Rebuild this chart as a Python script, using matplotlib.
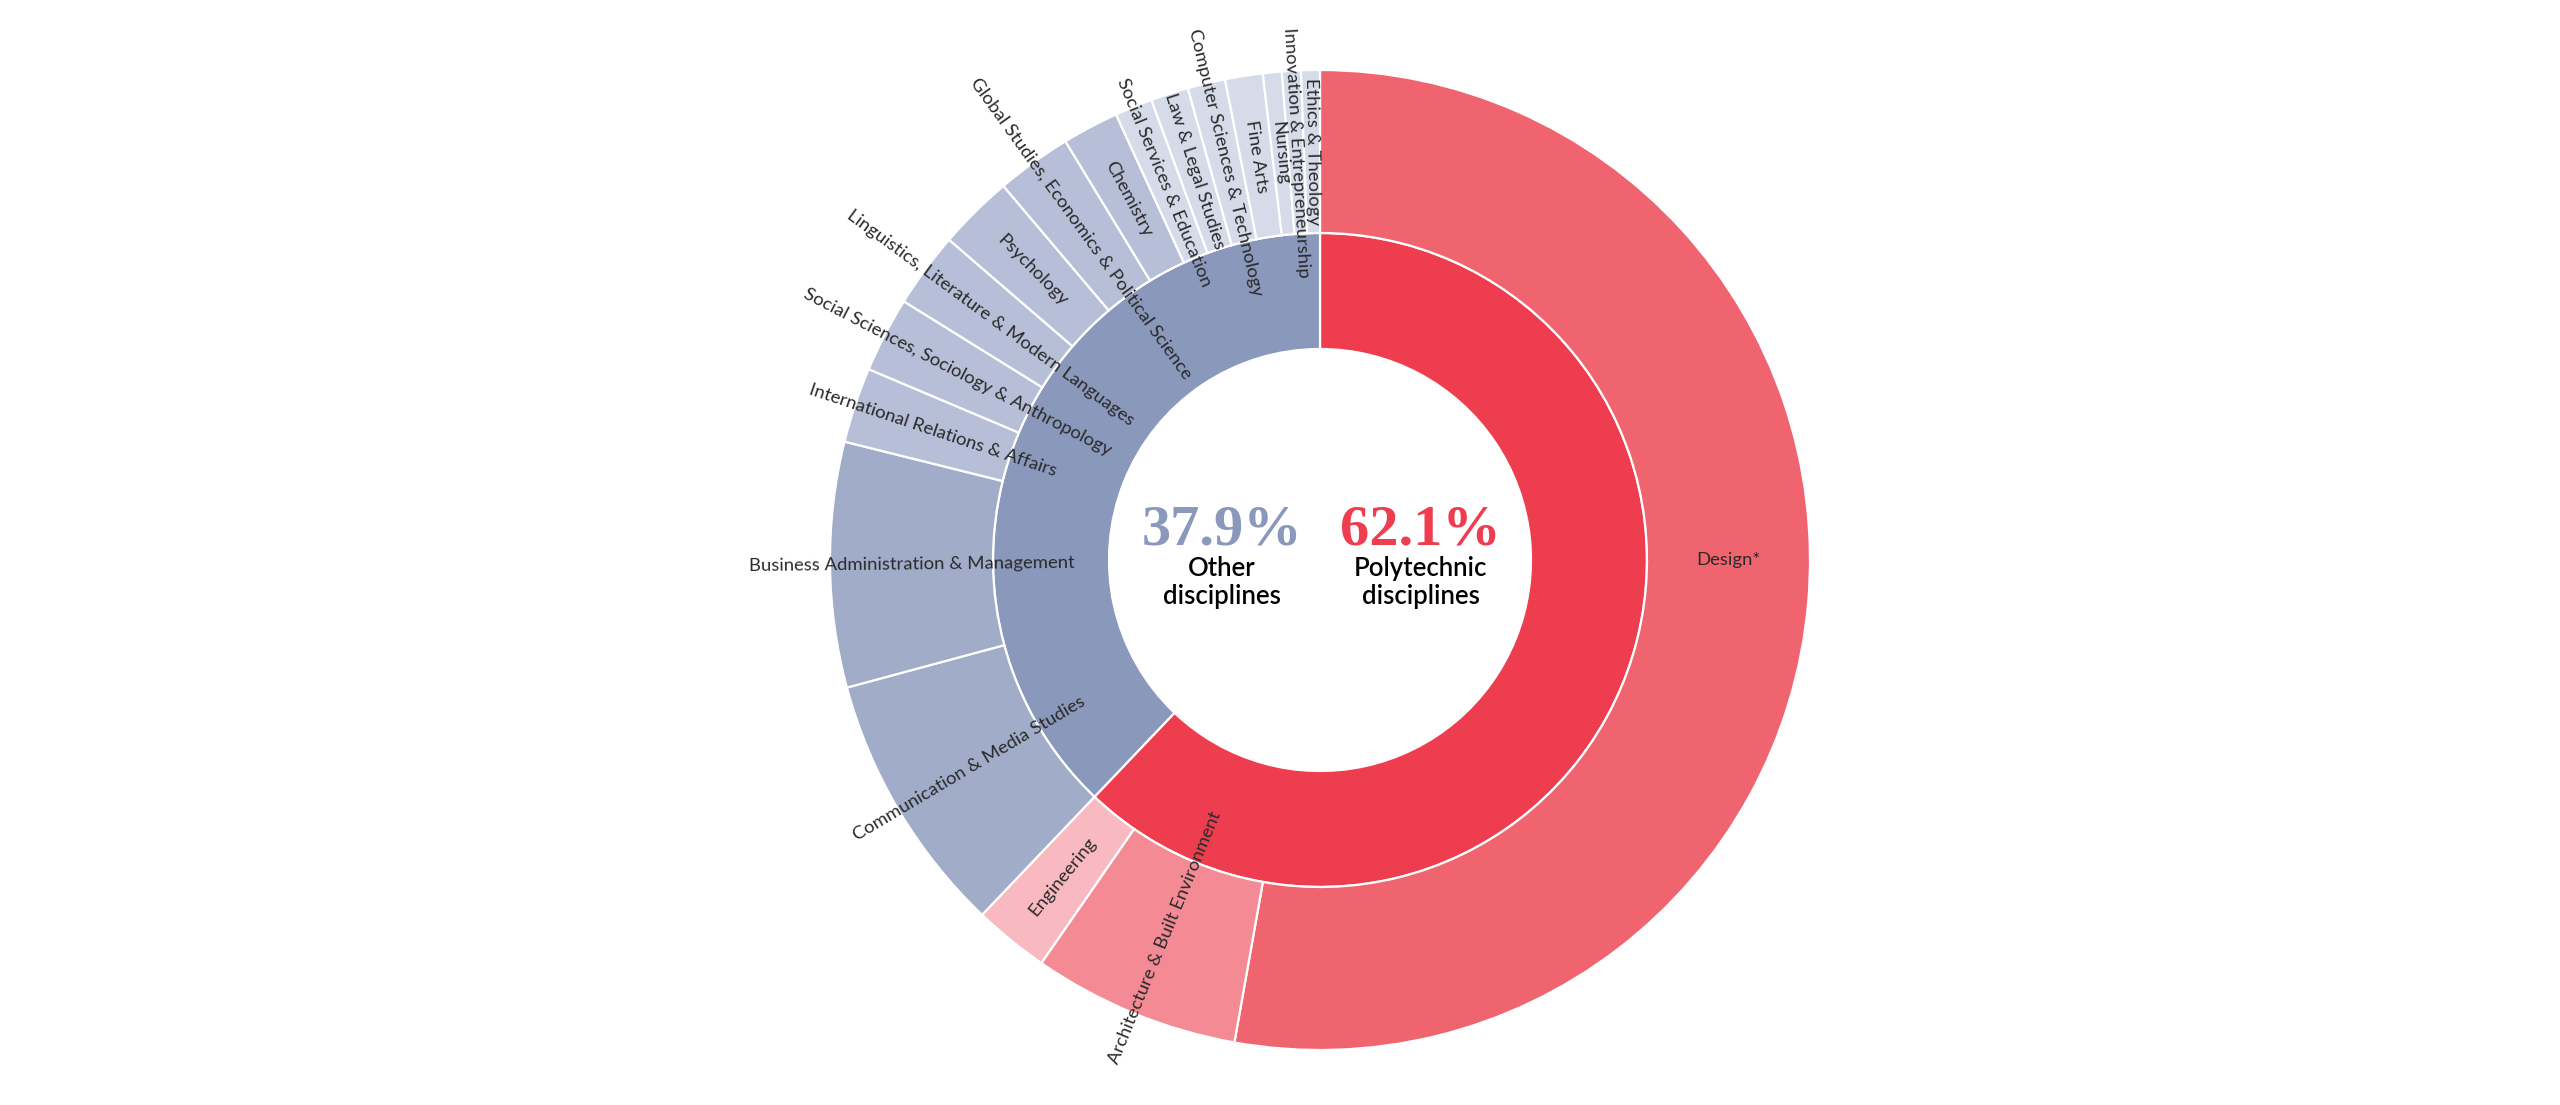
import numpy as np
import matplotlib
matplotlib.use("Agg")
from matplotlib import pyplot as plt

# inner ring
groups = ["Polytechnic\ndisciplines", "Other\ndisciplines"]
group_counts = [100, 61]

# outer ring, same order as the inner ring (clockwise from the top)
disciplines = [
    "Design*", "Architecture & Built Environment", "Engineering",
    "Communication & Media Studies", "Business Administration & Management",
    "International Relations & Affairs", "Social Sciences, Sociology & Anthropology",
    "Linguistics, Literature & Modern Languages", "Psychology",
    "Global Studies, Economics & Political Science", "Chemistry",
    "Social Services & Education", "Law & Legal Studies",
    "Computer Sciences & Technology", "Fine Arts", "Nursing",
    "Innovation & Entrepreneurship", "Ethics & Theology",
]
discipline_counts = [85, 11, 4, 14, 13, 4, 4, 4, 4, 4, 3, 2, 2, 2, 2, 1, 1, 1]

group_colors = ["#ef3d50", "#8a98bb"]
outer_colors = ["#f06470", "#f48a94", "#f8bac0",
                "#a1acc9", "#a1acc9",
                "#b6bfd7", "#b6bfd7", "#b6bfd7", "#b6bfd7", "#b6bfd7", "#b6bfd7",
                "#d6dbe9", "#d6dbe9", "#d6dbe9", "#d6dbe9", "#d6dbe9", "#d6dbe9", "#d6dbe9"]

R_OUT = 1.0
R_MID = 327 / 490
R_HOLE = 211 / 490

fig = plt.figure(figsize=(25.6, 11.05), dpi=100)
ax = fig.add_axes([830 / 2560, 55 / 1105, 980 / 2560, 980 / 1105])

wp = dict(edgecolor="white", linewidth=1.6)
ax.pie(group_counts, radius=R_MID, colors=group_colors, startangle=90,
       counterclock=False, wedgeprops=dict(width=R_MID - R_HOLE, **wp))
ax.pie(discipline_counts, radius=R_OUT, colors=outer_colors, startangle=90,
       counterclock=False, wedgeprops=dict(width=R_OUT - R_MID, **wp))
ax.set_xlim(-1, 1)
ax.set_ylim(-1, 1)
ax.set_aspect("equal")
ax.axis("off")

# labels on the outer ring
total = sum(discipline_counts)
cum = np.cumsum(discipline_counts)
r_lab = (R_OUT + R_MID) / 2
for name, v, c in zip(disciplines, discipline_counts, cum):
    start = 360 * (c - v) / total
    end = 360 * c / total
    theta = (start + end) / 2  # clockwise from top
    if end - start > 180:
        # big sector: horizontal label at the rightmost point
        theta = 90 if start <= 90 <= end else theta
        rot = 0
    phi = np.radians(90 - theta)
    x, y = r_lab * np.cos(phi), r_lab * np.sin(phi)
    if end - start <= 180:
        rot = np.degrees(phi)
        if np.cos(phi) < 0:
            rot += 180
        rot = (rot + 180) % 360 - 180
    ax.text(x, y, name, rotation=rot, rotation_mode="anchor", ha="center",
            va="center", fontsize=13.3, family="Lato",
            color="#2a2a2a", clip_on=False)

# centre text
pct = [100 * g / sum(group_counts) for g in group_counts]
for xc, g, p, col in zip([0.205, -0.2], groups, pct, group_colors):
    ax.text(xc, 0.031, f"{p:.1f}%", ha="center", va="baseline",
            fontsize=42, family="Liberation Serif", fontweight="bold", color=col)
    ax.text(xc, -0.045, g, ha="center", va="center", fontsize=18.5,
            family="Lato", fontweight="semibold", color="black", linespacing=1.15)

plt.savefig("out.png", dpi=100)
